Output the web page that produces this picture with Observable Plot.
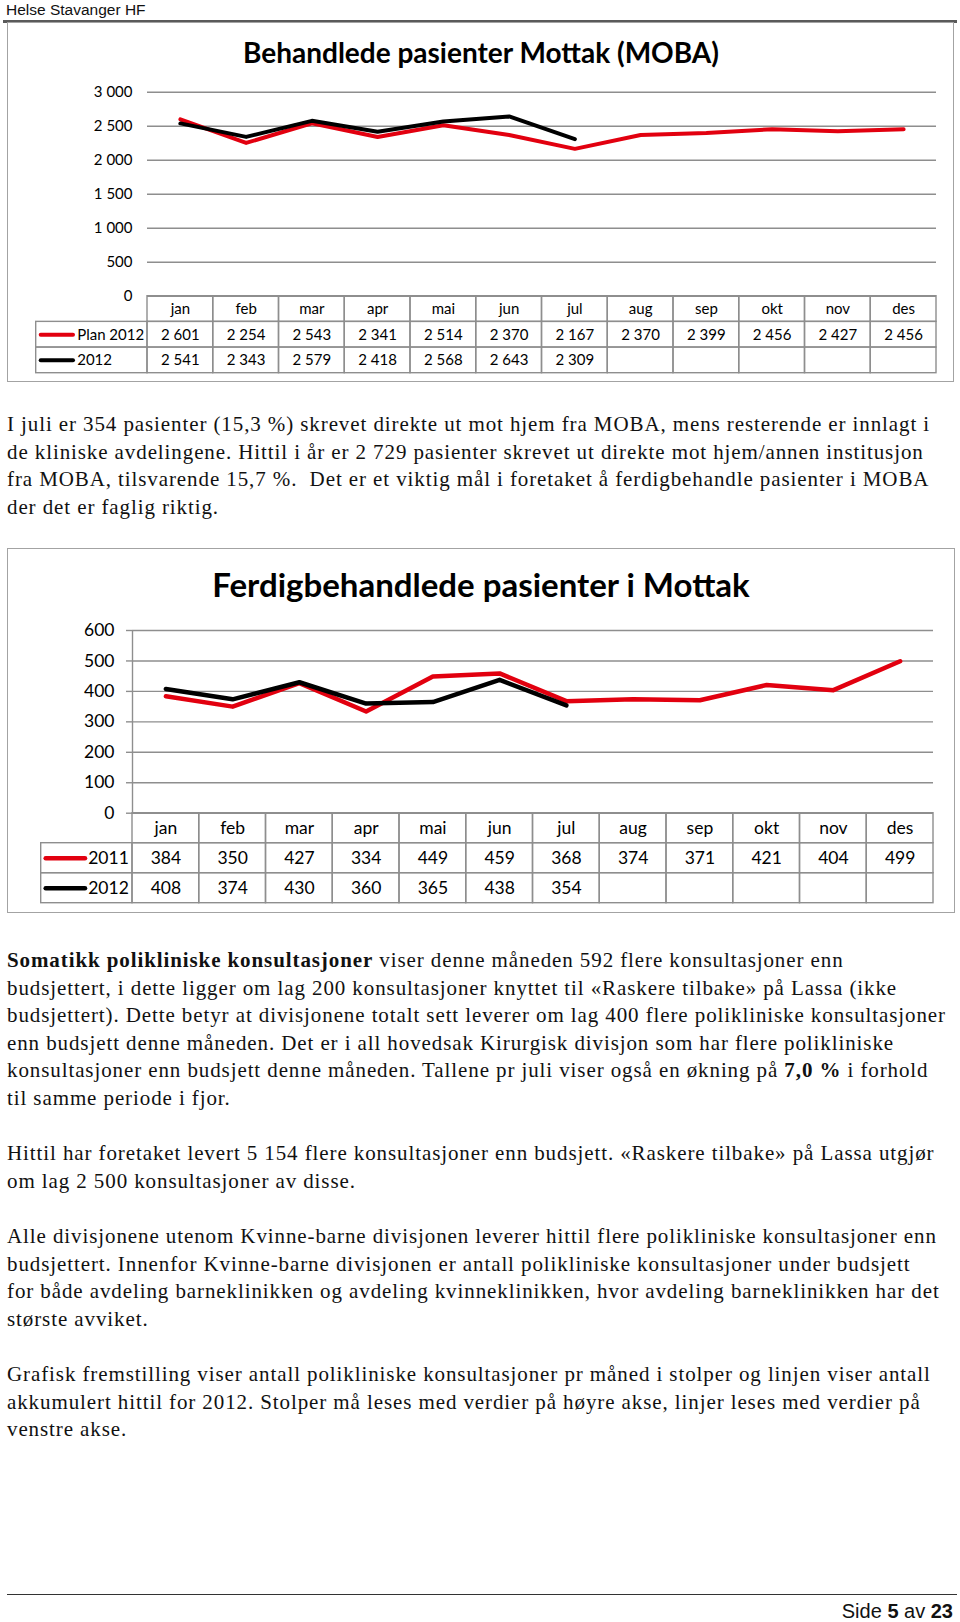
<!DOCTYPE html>
<html>
<head>
<meta charset="utf-8">
<script src="https://cdn.jsdelivr.net/npm/d3@7"></script>
<script src="https://cdn.jsdelivr.net/npm/@observablehq/plot@0.6"></script>
<style>
  html, body { margin: 0; padding: 0; background: #fff; }
  #page { position: relative; width: 960px; height: 1622px; background: #fff; overflow: hidden; }
  .abs { position: absolute; }
  .box { position: absolute; border: 1.5px solid #a3a3a3; box-sizing: border-box; pointer-events: none; z-index: 3; }
  .title { position: absolute; left: 0; width: 962px; text-align: center; font-family: Lato, sans-serif; font-weight: 700; color: #000; white-space: nowrap; }
  .para { position: absolute; left: 7px; font-family: "Liberation Serif", "Times New Roman", serif; font-size: 21px; line-height: 27.6px; color: #111; letter-spacing: 0.9px; white-space: nowrap; }
</style>
</head>
<body>
<div id="page">
  <div class="abs" style="left:6px;top:1px;font-family:'Liberation Sans',Arial,sans-serif;font-size:15.5px;line-height:18px;color:#111;">Helse Stavanger HF</div>
  <div class="abs" style="left:3px;top:20px;width:954px;height:2.5px;background:#5a5a5a;"></div>

  <div class="box" style="left:7px;top:22px;width:947px;height:360px;"></div>
  <div class="title" style="top:32px;font-size:28px;line-height:40px;">Behandlede pasienter Mottak (MOBA)</div>

  <div class="para" style="top:411px;">I juli er 354 pasienter (15,3 %) skrevet direkte ut mot hjem fra MOBA, mens resterende er innlagt i<br>de kliniske avdelingene. Hittil i år er 2 729 pasienter skrevet ut direkte mot hjem/annen institusjon<br>fra MOBA, tilsvarende 15,7 %.&nbsp; Det er et viktig mål i foretaket å ferdigbehandle pasienter i MOBA<br>der det er faglig riktig.</div>

  <div class="box" style="left:7px;top:548px;width:948px;height:365px;"></div>
  <div class="title" style="top:562px;font-size:33px;line-height:44px;">Ferdigbehandlede pasienter i Mottak</div>

  <div class="para" style="top:947px;"><b>Somatikk polikliniske konsultasjoner</b> viser denne måneden 592 flere konsultasjoner enn<br>budsjettert, i dette ligger om lag 200 konsultasjoner knyttet til «Raskere tilbake» på Lassa (ikke<br>budsjettert). Dette betyr at divisjonene totalt sett leverer om lag 400 flere polikliniske konsultasjoner<br>enn budsjett denne måneden. Det er i all hovedsak Kirurgisk divisjon som har flere polikliniske<br>konsultasjoner enn budsjett denne måneden. Tallene pr juli viser også en økning på <b>7,0 %</b> i forhold<br>til samme periode i fjor.<br>&nbsp;<br>Hittil har foretaket levert 5 154 flere konsultasjoner enn budsjett. «Raskere tilbake» på Lassa utgjør<br>om lag 2 500 konsultasjoner av disse.<br>&nbsp;<br>Alle divisjonene utenom Kvinne-barne divisjonen leverer hittil flere polikliniske konsultasjoner enn<br>budsjettert. Innenfor Kvinne-barne divisjonen er antall polikliniske konsultasjoner under budsjett<br>for både avdeling barneklinikken og avdeling kvinneklinikken, hvor avdeling barneklinikken har det<br>største avviket.<br>&nbsp;<br>Grafisk fremstilling viser antall polikliniske konsultasjoner pr måned i stolper og linjen viser antall<br>akkumulert hittil for 2012. Stolper må leses med verdier på høyre akse, linjer leses med verdier på<br>venstre akse.</div>

  <div class="abs" style="left:7px;top:1594px;width:950px;height:1.3px;background:#333;"></div>
  <div class="abs" style="right:7px;top:1599px;font-family:'Liberation Sans',Arial,sans-serif;font-size:20px;line-height:24px;color:#111;">Side <b>5</b> av <b>23</b></div>
</div>
<script>
// ---------- data ----------
const months = ["jan","feb","mar","apr","mai","jun","jul","aug","sep","okt","nov","des"];

const mobaNames = ["Plan 2012", "2012"];
const mobaPlan2012 = [2601, 2254, 2543, 2341, 2514, 2370, 2167, 2370, 2399, 2456, 2427, 2456];
const moba2012 = [2541, 2343, 2579, 2418, 2568, 2643, 2309];
const mobaTicks = [0, 500, 1000, 1500, 2000, 2500, 3000];

const ferdigNames = ["2011", "2012"];
const ferdig2011 = [384, 350, 427, 334, 449, 459, 368, 374, 371, 421, 404, 499];
const ferdig2012 = [408, 374, 430, 360, 365, 438, 354];
const ferdigTicks = [0, 100, 200, 300, 400, 500, 600];

// ---------- style ----------
const RED = "#e2000f";
const BLACK = "#000000";
const GRID = "#8e8e8e";
const fmt = d3.formatLocale({decimal: ",", thousands: "\u00a0", grouping: [3], currency: ["", ""]}).format(",d");
const page = document.getElementById("page");

function place(svg, top) {
  svg.style.position = "absolute";
  svg.style.left = "0px";
  svg.style.top = top + "px";
  svg.style.background = "none";
  svg.style.overflow = "visible";
  svg.style.maxWidth = "none";
  page.appendChild(svg);
}

function lineChart(o) {
  const marks = [
    Plot.ruleY(o.ticks, {stroke: GRID, strokeWidth: 1.4}),
    Plot.axisY(o.ticks, {tickSize: o.tickSize, tickPadding: o.tickPadding, stroke: GRID, strokeWidth: 1.4,
      tickFormat: fmt, fill: "#000", fontSize: o.fontSize, label: null})
  ];
  if (o.axisLine) marks.push(Plot.ruleX([0], {y1: 0, y2: o.yMax, stroke: GRID, strokeWidth: 1.4}));
  for (const s of o.series) {
    marks.push(Plot.line(s.values.map((v, i) => ({i, v})), {
      x: d => d.i + 0.5, y: "v", stroke: s.color, strokeWidth: o.strokeWidth,
      strokeLinejoin: "round", strokeLinecap: "round"
    }));
  }
  const svg = Plot.plot({
    width: 960, height: o.height,
    marginTop: o.mt, marginBottom: o.mb, marginLeft: o.ml, marginRight: o.mr,
    x: {domain: [0, 12], axis: null},
    y: {domain: [0, o.yMax], label: null},
    style: {fontFamily: "Lato, sans-serif", fontSize: o.fontSize + "px", color: "#000", background: "none", overflow: "visible"},
    marks
  });
  place(svg, o.top);
}

function tableChart(o) {
  const cells = months.map((m, i) => ({x1: i, x2: i + 1, r: 0, text: m}));
  o.series.forEach((s, k) => {
    cells.push({x1: -o.L, x2: 0, r: k + 1, text: ""});
    months.forEach((m, i) => cells.push({x1: i, x2: i + 1, r: k + 1, text: s.values[i] != null ? fmt(s.values[i]) : ""}));
  });
  const marks = [
    Plot.rect(cells, {x1: "x1", x2: "x2", y1: d => d.r, y2: d => d.r + 1, fill: "none", stroke: GRID, strokeWidth: 1.4}),
    Plot.text(cells.filter(d => d.text), {x: d => (d.x1 + d.x2) / 2, y: d => d.r + 0.5, text: "text", fontSize: o.fontSize, fill: "#000"})
  ];
  o.series.forEach((s, k) => {
    marks.push(Plot.ruleY([k + 1.5], {x1: -o.L, x2: 0, insetLeft: o.legendInsetLeft, insetRight: o.legendInsetRight,
      stroke: s.color, strokeWidth: o.legendWidth, strokeLinecap: "round"}));
    marks.push(Plot.text([s], {x: -o.L, y: k + 1.5, text: "name", textAnchor: "start", dx: o.labelDx, fontSize: o.fontSize, fill: "#000"}));
  });
  const svg = Plot.plot({
    width: 960, height: o.height,
    marginTop: o.mt, marginBottom: o.mb, marginLeft: o.ml, marginRight: o.mr,
    x: {domain: [-o.L, 12], axis: null},
    y: {domain: [3, 0], axis: null},
    style: {fontFamily: "Lato, sans-serif", fontSize: o.fontSize + "px", color: "#000", background: "none", overflow: "visible"},
    marks
  });
  place(svg, o.top);
}

// ---------- chart 1: Behandlede pasienter Mottak (MOBA) ----------
const mobaSeries = [
  {name: mobaNames[0], values: mobaPlan2012, color: RED},
  {name: mobaNames[1], values: moba2012, color: BLACK}
];
lineChart({series: mobaSeries, ticks: mobaTicks, yMax: 3000, top: 70, height: 230, mt: 21.7, mb: 4.3,
  ml: 147, mr: 24, axisLine: false, tickSize: 0, tickPadding: 15, fontSize: 15, strokeWidth: 4});
tableChart({series: mobaSeries, top: 290, height: 90, mt: 5.7, mb: 7.3, ml: 35.7, mr: 24,
  L: (147 - 35.7) / 65.75, fontSize: 15, legendInsetLeft: 5, legendInsetRight: 74, legendWidth: 4, labelDx: 41});

// ---------- chart 2: Ferdigbehandlede pasienter i Mottak ----------
const ferdigSeries = [
  {name: ferdigNames[0], values: ferdig2011, color: RED},
  {name: ferdigNames[1], values: ferdig2012, color: BLACK}
];
lineChart({series: ferdigSeries, ticks: ferdigTicks, yMax: 600, top: 610, height: 210, mt: 20, mb: 7.3,
  ml: 132, mr: 27, axisLine: true, tickSize: 6, tickPadding: 12, fontSize: 17.5, strokeWidth: 4.5});
tableChart({series: ferdigSeries, top: 805, height: 105, mt: 7.7, mb: 7.3, ml: 40.7, mr: 27,
  L: (132 - 40.7) / 66.75, fontSize: 17.5, legendInsetLeft: 5, legendInsetRight: 47, legendWidth: 4.5, labelDx: 47});
</script>
</body>
</html>
